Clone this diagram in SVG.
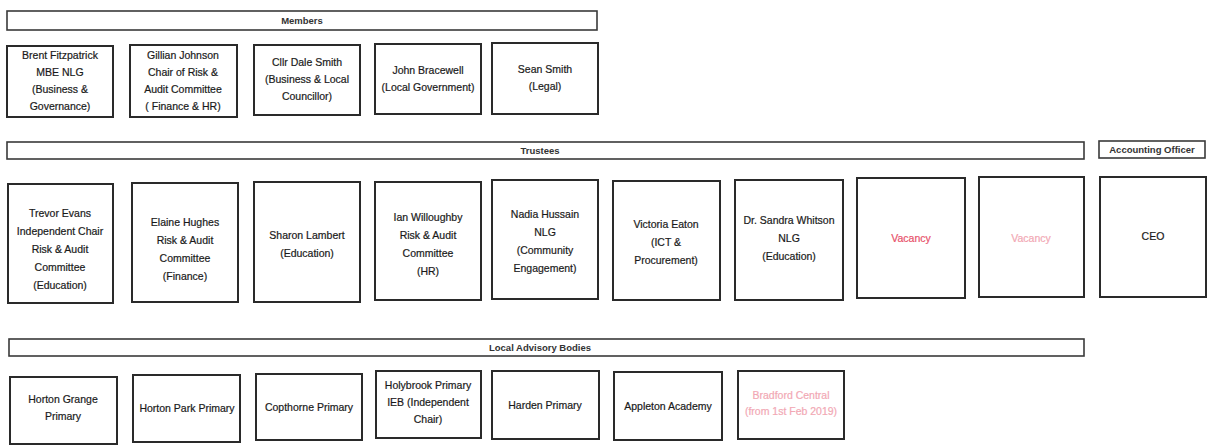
<svg xmlns="http://www.w3.org/2000/svg" width="1210" height="445" viewBox="0 0 1210 445">
<style>
.bar{fill:#fff;stroke:#3a3a3a;stroke-width:1.6}
.box{fill:#fff;stroke:#2a2a2a;stroke-width:2}
text{font-family:"Liberation Sans",Arial,sans-serif;font-size:10.5px;fill:#1a1a1a;stroke:#1a1a1a;stroke-width:0.2;text-anchor:middle}
.h{font-size:9.5px;font-weight:bold;fill:#333;stroke:none}
.red{fill:#e8506a;stroke:#e8506a}
.faded{fill:#f2a8b4;stroke:#f2a8b4}
</style>
<rect width="1210" height="445" fill="#fff"/>
<g id="members-header"><rect class="bar" x="7" y="11" width="590" height="19"/><text class="h" x="302" y="24">Members</text></g>
<g id="m1"><rect class="box" x="7" y="46" width="106" height="71"/><text x="60" y="59">Brent Fitzpatrick</text><text x="60" y="76">MBE NLG</text><text x="60" y="93">(Business &amp;</text><text x="60" y="110">Governance)</text></g>
<g id="m2"><rect class="box" x="130" y="45" width="107" height="72"/><text x="183" y="59">Gillian Johnson</text><text x="183" y="76">Chair of Risk &amp;</text><text x="183" y="93">Audit Committee</text><text x="183" y="110">( Finance &amp; HR)</text></g>
<g id="m3"><rect class="box" x="254" y="45" width="106" height="70"/><text x="307" y="66">Cllr Dale Smith</text><text x="307" y="83">(Business &amp; Local</text><text x="307" y="100">Councillor)</text></g>
<g id="m4"><rect class="box" x="375" y="44" width="106" height="70"/><text x="428" y="74">John Bracewell</text><text x="428" y="91">(Local Government)</text></g>
<g id="m5"><rect class="box" x="492" y="43" width="106" height="71"/><text x="545" y="73">Sean Smith</text><text x="545" y="90">(Legal)</text></g>

<g id="trustees-header"><rect class="bar" x="7" y="142" width="1077" height="17"/><text class="h" x="540" y="154">Trustees</text></g>
<g id="ao-header"><rect class="bar" x="1099" y="141" width="106" height="17"/><text class="h" x="1152" y="153">Accounting Officer</text></g>
<g id="t1"><rect class="box" x="8" y="184" width="105" height="119"/><text x="60" y="217">Trevor Evans</text><text x="60" y="235">Independent Chair</text><text x="60" y="253">Risk &amp; Audit</text><text x="60" y="271">Committee</text><text x="60" y="289">(Education)</text></g>
<g id="t2"><rect class="box" x="132" y="183" width="106" height="119"/><text x="185" y="226">Elaine Hughes</text><text x="185" y="244">Risk &amp; Audit</text><text x="185" y="262">Committee</text><text x="185" y="280">(Finance)</text></g>
<g id="t3"><rect class="box" x="254" y="182" width="106" height="120"/><text x="307" y="239">Sharon Lambert</text><text x="307" y="257">(Education)</text></g>
<g id="t4"><rect class="box" x="375" y="182" width="106" height="118"/><text x="428" y="221">Ian Willoughby</text><text x="428" y="239">Risk &amp; Audit</text><text x="428" y="257">Committee</text><text x="428" y="275">(HR)</text></g>
<g id="t5"><rect class="box" x="492" y="180" width="106" height="119"/><text x="545" y="218">Nadia Hussain</text><text x="545" y="236">NLG</text><text x="545" y="254">(Community</text><text x="545" y="272">Engagement)</text></g>
<g id="t6"><rect class="box" x="613" y="181" width="107" height="119"/><text x="666" y="228">Victoria Eaton</text><text x="666" y="246">(ICT &amp;</text><text x="666" y="264">Procurement)</text></g>
<g id="t7"><rect class="box" x="735" y="180" width="108" height="120"/><text x="789" y="224">Dr. Sandra Whitson</text><text x="789" y="242">NLG</text><text x="789" y="260">(Education)</text></g>
<g id="t8"><rect class="box" x="857" y="178" width="108" height="120"/><text class="red" x="911" y="242">Vacancy</text></g>
<g id="t9"><rect class="box" x="979" y="177" width="105" height="120"/><text class="faded" x="1031" y="242">Vacancy</text></g>
<g id="t10"><rect class="box" x="1100" y="177" width="106" height="120"/><text x="1153" y="240">CEO</text></g>

<g id="lab-header"><rect class="bar" x="9" y="339" width="1075" height="17"/><text class="h" x="540" y="351">Local Advisory Bodies</text></g>
<g id="l1"><rect class="box" x="10" y="377" width="107" height="67"/><text x="63" y="403">Horton Grange</text><text x="63" y="420">Primary</text></g>
<g id="l2"><rect class="box" x="133" y="375" width="107" height="67"/><text x="187" y="412">Horton Park Primary</text></g>
<g id="l3"><rect class="box" x="256" y="374" width="106" height="66"/><text x="309" y="411">Copthorne Primary</text></g>
<g id="l4"><rect class="box" x="376" y="371" width="105" height="67"/><text x="428" y="389">Holybrook Primary</text><text x="428" y="406">IEB (Independent</text><text x="428" y="423">Chair)</text></g>
<g id="l5"><rect class="box" x="492" y="371" width="107" height="68"/><text x="545" y="409">Harden Primary</text></g>
<g id="l6"><rect class="box" x="614" y="372" width="108" height="68"/><text x="668" y="410">Appleton Academy</text></g>
<g id="l7"><rect class="box" x="738" y="371" width="106" height="68"/><text class="faded" x="791" y="399">Bradford Central</text><text class="faded" x="791" y="415">(from 1st Feb 2019)</text></g>
<g id="connectors"></g>
</svg>
